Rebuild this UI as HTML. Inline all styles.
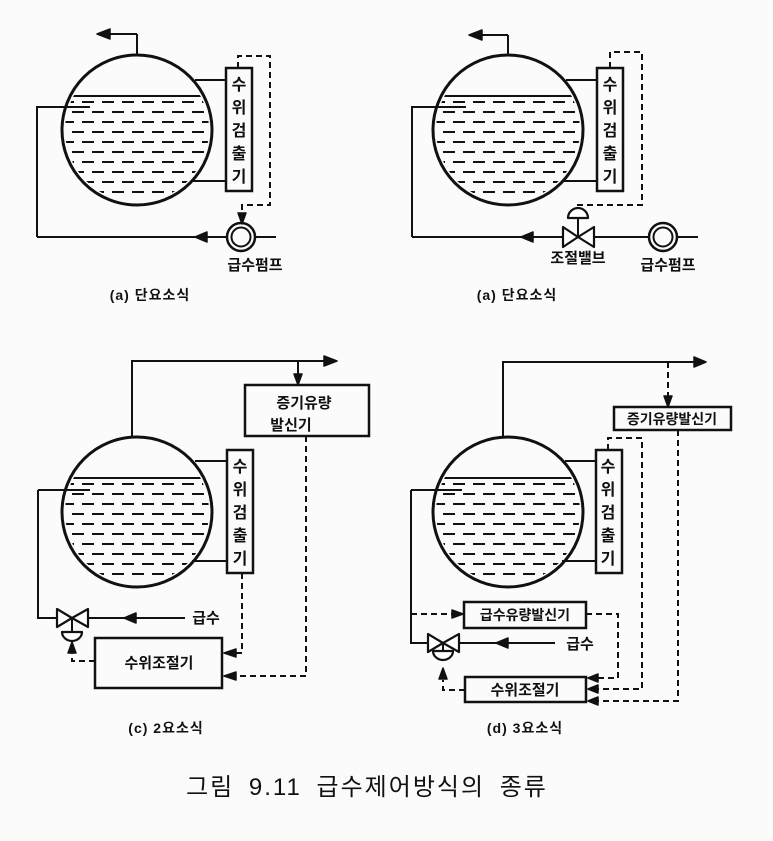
<!DOCTYPE html>
<html><head><meta charset="utf-8"><style>
html,body{margin:0;padding:0;background:#fbfbfb}
svg{display:block}
text{font-family:"Liberation Sans","Noto Sans CJK KR",sans-serif;fill:#111}
.b{font-weight:bold}
</style></head><body>
<svg width="773" height="841" viewBox="0 0 773 841" xmlns="http://www.w3.org/2000/svg">
<defs>
<clipPath id="cc"><circle cx="0" cy="0" r="72"/></clipPath>
<g id="drum">
 <g clip-path="url(#cc)" stroke="#111" stroke-width="2">
  <line x1="-80" y1="-34" x2="80" y2="-34"/>
  <g stroke-dasharray="12 8">
   <line x1="-75" y1="-28" x2="80" y2="-28" stroke-dashoffset="0"/>
   <line x1="-75" y1="-18" x2="80" y2="-18" stroke-dashoffset="10"/>
   <line x1="-75" y1="-8" x2="80" y2="-8" stroke-dashoffset="0"/>
   <line x1="-75" y1="2" x2="80" y2="2" stroke-dashoffset="10"/>
   <line x1="-75" y1="12" x2="80" y2="12" stroke-dashoffset="0"/>
   <line x1="-75" y1="22" x2="80" y2="22" stroke-dashoffset="10"/>
   <line x1="-75" y1="32" x2="80" y2="32" stroke-dashoffset="0"/>
   <line x1="-75" y1="42" x2="80" y2="42" stroke-dashoffset="10"/>
   <line x1="-75" y1="52" x2="80" y2="52" stroke-dashoffset="0"/>
   <line x1="-75" y1="62" x2="80" y2="62" stroke-dashoffset="10"/>
  </g>
 </g>
 <circle cx="0" cy="0" r="75" fill="none" stroke="#111" stroke-width="3"/>
</g>
<g id="det">
 <rect x="0" y="0" width="26" height="123" fill="none" stroke="#111" stroke-width="2.5"/>
</g>
</defs>

<g fill="none" stroke="#111" stroke-width="2">
<!-- (a) -->
<use href="#drum" x="137" y="130"/>
<use href="#det" x="226" y="68"/>
<line x1="137" y1="55" x2="137" y2="34"/><line x1="137" y1="34" x2="108" y2="34"/>
<line x1="195" y1="80" x2="226" y2="80"/><line x1="192" y1="181" x2="226" y2="181"/>
<polyline points="37,237 227,237"/><polyline points="37,237 37,107 90,107"/>
<line x1="256" y1="237" x2="276" y2="237"/>
<circle cx="241" cy="237" r="14" stroke-width="2.5"/><circle cx="241" cy="237" r="9.5" stroke-width="2"/>
<polyline points="238,68 238,56 270,56 270,205 242,205 242,214" stroke-dasharray="6 4"/>
<!-- (b) -->
<use href="#drum" x="508" y="130"/>
<use href="#det" x="597" y="68"/>
<line x1="508" y1="55" x2="508" y2="35"/><line x1="508" y1="35" x2="480" y2="35"/>
<line x1="566" y1="80" x2="597" y2="80"/><line x1="562" y1="181" x2="597" y2="181"/>
<polyline points="412,237 563,237"/><polyline points="412,237 412,107 466,107"/>
<line x1="594" y1="237" x2="649" y2="237"/><line x1="677" y1="237" x2="698" y2="237"/>
<circle cx="663" cy="237" r="14" stroke-width="2.5"/><circle cx="663" cy="237" r="9.5" stroke-width="2"/>
<polyline points="610,68 610,52 642,52 642,205 578,205 578,209" stroke-dasharray="6 4"/>
<line x1="578" y1="218" x2="578" y2="237"/>
<!-- (c) -->
<use href="#drum" x="137" y="512"/>
<use href="#det" x="227" y="450"/>
<polyline points="132,437 132,361 325,361"/>
<line x1="298" y1="361" x2="298" y2="375"/>
<rect x="245" y="385" width="124" height="51" stroke-width="2.5"/>
<line x1="195" y1="461" x2="227" y2="461"/><line x1="192" y1="561" x2="227" y2="561"/>
<polyline points="38,490 38,618 57,618"/><line x1="38" y1="490" x2="90" y2="490"/>
<line x1="88" y1="618" x2="185" y2="618"/>
<rect x="95" y="638" width="127" height="50" stroke-width="2.5"/>
<polyline points="242,573 242,653 236,653" stroke-dasharray="6 4"/>
<polyline points="306,436 306,676 236,676" stroke-dasharray="6 4"/>
<polyline points="95,661 72,661 72,652" stroke-dasharray="6 4"/>
<line x1="72" y1="618" x2="72" y2="632"/>
<!-- (d) -->
<use href="#drum" x="508" y="512"/>
<use href="#det" x="596" y="450"/>
<polyline points="503,437 503,362 695,362"/>
<line x1="668" y1="362" x2="668" y2="398" stroke-dasharray="6 4"/>
<rect x="614" y="407" width="117" height="23" stroke-width="2.5"/>
<line x1="565" y1="461" x2="596" y2="461"/><line x1="562" y1="561" x2="596" y2="561"/>
<polyline points="411,490 411,643 428,643"/><line x1="411" y1="490" x2="462" y2="490"/>
<line x1="459" y1="643" x2="555" y2="643"/>
<rect x="464" y="602" width="122" height="26" stroke-width="2.5"/>
<rect x="465" y="677" width="121" height="25" stroke-width="2.5"/>
<polyline points="411,614 456,614" stroke-dasharray="6 4"/>
<polyline points="608,450 608,438 642,438 642,689 595,689" stroke-dasharray="6 4"/>
<polyline points="678,430 678,701 595,701" stroke-dasharray="6 4"/>
<polyline points="586,614 618,614 618,678 595,678" stroke-dasharray="6 4"/>
<polyline points="465,690 443,690 443,680" stroke-dasharray="6 4"/>
<line x1="443" y1="643" x2="443" y2="651"/>
</g>

<g fill="#111" stroke="#111" stroke-width="1.5" stroke-linejoin="round">
<polygon points="97,34 110,29 110,39"/>
<polygon points="242,224 238,213 246,213"/>
<polygon points="195,237 207,232 207,242"/>
<polygon points="469,35 482,30 482,40"/>
<polygon points="521,237 533,232 533,242"/>
<polygon points="337,361 324,356 324,366"/>
<polygon points="298,385 294,374 302,374"/>
<polygon points="124,618 136,613 136,623"/>
<polygon points="224,653 236,649 236,657"/>
<polygon points="224,676 236,672 236,680"/>
<polygon points="72,642 68,653 76,653"/>
<polygon points="706,362 694,357 694,367"/>
<polygon points="668,407 664,396 672,396"/>
<polygon points="463,614 452,610 452,618"/>
<polygon points="496,643 508,638 508,648"/>
<polygon points="588,678 598,674 598,682"/>
<polygon points="588,689 598,685 598,693"/>
<polygon points="588,701 598,697 598,705"/>
<polygon points="443,668 439,679 447,679"/>
</g>
<g fill="#fff" stroke="#111" stroke-width="2.2" stroke-linejoin="round">
<polygon points="563,227 578,237 563,247"/><polygon points="594,227 578,237 594,247"/>
<path d="M568,218 A10,10 0 0 1 588,218 Z"/>
<polygon points="57,609 72,618 57,627"/><polygon points="88,609 72,618 88,627"/>
<path d="M62,632 L82,632 A10,9 0 0 1 62,632 Z"/>
<polygon points="428,634 443,643 428,652"/><polygon points="459,634 443,643 459,652"/>
<path d="M433,651 L453,651 A10,9 0 0 1 433,651 Z"/>
</g>

<g class="b" font-size="16" text-anchor="middle">
<text x="239" y="90">수</text><text x="239" y="113">위</text><text x="239" y="136">검</text><text x="239" y="159">출</text><text x="239" y="182">기</text>
<text x="610" y="90">수</text><text x="610" y="113">위</text><text x="610" y="136">검</text><text x="610" y="159">출</text><text x="610" y="182">기</text>
<text x="240" y="472">수</text><text x="240" y="495">위</text><text x="240" y="518">검</text><text x="240" y="541">출</text><text x="240" y="564">기</text>
<text x="608" y="472">수</text><text x="608" y="495">위</text><text x="608" y="518">검</text><text x="608" y="541">출</text><text x="608" y="564">기</text>
</g>
<g class="b" font-size="15" text-anchor="middle">
<text x="255" y="270">급수펌프</text>
<text x="578" y="263">조절밸브</text>
<text x="668" y="270">급수펌프</text>
<text x="304" y="408">증기유량</text>
<text x="291" y="430">발신기</text>
<text x="206" y="623">급수</text>
<text x="159" y="668">수위조절기</text>
<text x="672" y="424" font-size="14">증기유량발신기</text>
<text x="525" y="620" font-size="14">급수유량발신기</text>
<text x="580" y="649">급수</text>
<text x="525" y="695">수위조절기</text>
<text x="150" y="300" font-size="14" letter-spacing="1">(a) 단요소식</text>
<text x="517" y="300" font-size="14" letter-spacing="1">(a) 단요소식</text>
<text x="166" y="733" font-size="14" letter-spacing="1">(c) 2요소식</text>
<text x="525" y="733" font-size="14" letter-spacing="1">(d) 3요소식</text>
</g>
<text x="367" y="795" font-size="24" letter-spacing="2" word-spacing="6" text-anchor="middle">그림 9.11 급수제어방식의 종류</text>
</svg>
</body></html>
